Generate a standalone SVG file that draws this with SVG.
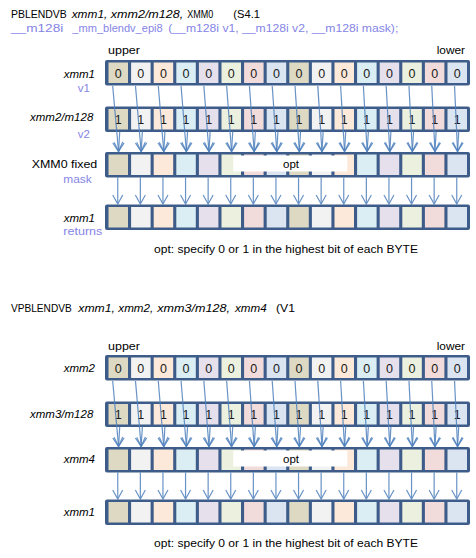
<svg xmlns="http://www.w3.org/2000/svg" width="476" height="558" viewBox="0 0 476 558">
<style>
text{font-family:"Liberation Sans",Arial,sans-serif;font-size:11.5px;fill:#000}
.t{font-size:11.5px}
.i{font-style:italic}
.lv{fill:#8585E6}
.d{font-size:12.5px;text-anchor:middle;fill:#1a1a1a}
.e{text-anchor:end}
.a{stroke:#4F81BD;stroke-width:1.2;fill:none;opacity:0.85;marker-end:url(#ah)}
</style>
<defs>
<marker id="ah" viewBox="-11 -7 13 14" refX="0" refY="0" markerWidth="13" markerHeight="14" markerUnits="userSpaceOnUse" orient="auto">
<path d="M-9,-5 L0,0 L-9,5" fill="none" stroke="#4F81BD" stroke-width="1.2"/>
</marker>
<g id="reg">
<rect x="105" y="0" width="365" height="25.5" rx="2" fill="#3D5C89"/>
<rect x="108.5" y="2.5" width="19.5" height="20.5" fill="#DDD9C3"/>
<rect x="131.1" y="2.5" width="19.5" height="20.5" fill="#F2F2F2"/>
<rect x="153.7" y="2.5" width="19.5" height="20.5" fill="#FDE9D9"/>
<rect x="176.3" y="2.5" width="19.5" height="20.5" fill="#DAEEF3"/>
<rect x="198.9" y="2.5" width="19.5" height="20.5" fill="#E5E0EC"/>
<rect x="221.5" y="2.5" width="19.5" height="20.5" fill="#EBF1DE"/>
<rect x="244.1" y="2.5" width="19.5" height="20.5" fill="#F2DCDB"/>
<rect x="266.7" y="2.5" width="19.5" height="20.5" fill="#DBE5F1"/>
<rect x="289.3" y="2.5" width="19.5" height="20.5" fill="#DDD9C3"/>
<rect x="311.9" y="2.5" width="19.5" height="20.5" fill="#F2F2F2"/>
<rect x="334.5" y="2.5" width="19.5" height="20.5" fill="#FDE9D9"/>
<rect x="357.1" y="2.5" width="19.5" height="20.5" fill="#DAEEF3"/>
<rect x="379.7" y="2.5" width="19.5" height="20.5" fill="#E5E0EC"/>
<rect x="402.3" y="2.5" width="19.5" height="20.5" fill="#EBF1DE"/>
<rect x="424.9" y="2.5" width="19.5" height="20.5" fill="#F2DCDB"/>
<rect x="447.5" y="2.5" width="19.5" height="20.5" fill="#DBE5F1"/>
</g>
<g id="zeros">
<text class="d" x="118.25" y="17.8">0</text><text class="d" x="140.85" y="17.8">0</text><text class="d" x="163.45" y="17.8">0</text><text class="d" x="186.05" y="17.8">0</text>
<text class="d" x="208.65" y="17.8">0</text><text class="d" x="231.25" y="17.8">0</text><text class="d" x="253.85" y="17.8">0</text><text class="d" x="276.45" y="17.8">0</text>
<text class="d" x="299.05" y="17.8">0</text><text class="d" x="321.65" y="17.8">0</text><text class="d" x="344.25" y="17.8">0</text><text class="d" x="366.85" y="17.8">0</text>
<text class="d" x="389.45" y="17.8">0</text><text class="d" x="412.05" y="17.8">0</text><text class="d" x="434.65" y="17.8">0</text><text class="d" x="457.25" y="17.8">0</text>
</g>
<g id="ones">
<text class="d" x="118.25" y="17.8">1</text><text class="d" x="140.85" y="17.8">1</text><text class="d" x="163.45" y="17.8">1</text><text class="d" x="186.05" y="17.8">1</text>
<text class="d" x="208.65" y="17.8">1</text><text class="d" x="231.25" y="17.8">1</text><text class="d" x="253.85" y="17.8">1</text><text class="d" x="276.45" y="17.8">1</text>
<text class="d" x="299.05" y="17.8">1</text><text class="d" x="321.65" y="17.8">1</text><text class="d" x="344.25" y="17.8">1</text><text class="d" x="366.85" y="17.8">1</text>
<text class="d" x="389.45" y="17.8">1</text><text class="d" x="412.05" y="17.8">1</text><text class="d" x="434.65" y="17.8">1</text><text class="d" x="457.25" y="17.8">1</text>
</g>
<g id="optbox">
<rect x="233.3" y="3.5" width="114" height="16" fill="#FFFFFF"/>
<text x="291" y="15.8" text-anchor="middle" font-size="12">opt</text>
</g>
<g id="conn">
<line class="a" x1="112.7" y1="86" x2="118.55" y2="151.5"/><line class="a" x1="119.75" y1="131.5" x2="118.55" y2="151.5"/><line class="a" x1="117.75" y1="177.5" x2="117.75" y2="204"/>
<line class="a" x1="135.49" y1="86" x2="141.15" y2="151.5"/><line class="a" x1="142.35" y1="131.5" x2="141.15" y2="151.5"/><line class="a" x1="140.35" y1="177.5" x2="140.35" y2="204"/>
<line class="a" x1="158.28" y1="86" x2="163.75" y2="151.5"/><line class="a" x1="164.95" y1="131.5" x2="163.75" y2="151.5"/><line class="a" x1="162.95" y1="177.5" x2="162.95" y2="204"/>
<line class="a" x1="181.07" y1="86" x2="186.35" y2="151.5"/><line class="a" x1="187.55" y1="131.5" x2="186.35" y2="151.5"/><line class="a" x1="185.55" y1="177.5" x2="185.55" y2="204"/>
<line class="a" x1="203.86" y1="86" x2="208.95" y2="151.5"/><line class="a" x1="210.15" y1="131.5" x2="208.95" y2="151.5"/><line class="a" x1="208.15" y1="177.5" x2="208.15" y2="204"/>
<line class="a" x1="226.65" y1="86" x2="231.55" y2="151.5"/><line class="a" x1="232.75" y1="131.5" x2="231.55" y2="151.5"/><line class="a" x1="230.75" y1="177.5" x2="230.75" y2="204"/>
<line class="a" x1="249.44" y1="86" x2="254.15" y2="151.5"/><line class="a" x1="255.35" y1="131.5" x2="254.15" y2="151.5"/><line class="a" x1="253.35" y1="177.5" x2="253.35" y2="204"/>
<line class="a" x1="272.23" y1="86" x2="276.75" y2="151.5"/><line class="a" x1="277.95" y1="131.5" x2="276.75" y2="151.5"/><line class="a" x1="275.95" y1="177.5" x2="275.95" y2="204"/>
<line class="a" x1="295.02" y1="86" x2="299.35" y2="151.5"/><line class="a" x1="300.55" y1="131.5" x2="299.35" y2="151.5"/><line class="a" x1="298.55" y1="177.5" x2="298.55" y2="204"/>
<line class="a" x1="317.81" y1="86" x2="321.95" y2="151.5"/><line class="a" x1="323.15" y1="131.5" x2="321.95" y2="151.5"/><line class="a" x1="321.15" y1="177.5" x2="321.15" y2="204"/>
<line class="a" x1="340.6" y1="86" x2="344.55" y2="151.5"/><line class="a" x1="345.75" y1="131.5" x2="344.55" y2="151.5"/><line class="a" x1="343.75" y1="177.5" x2="343.75" y2="204"/>
<line class="a" x1="363.39" y1="86" x2="367.15" y2="151.5"/><line class="a" x1="368.35" y1="131.5" x2="367.15" y2="151.5"/><line class="a" x1="366.35" y1="177.5" x2="366.35" y2="204"/>
<line class="a" x1="386.18" y1="86" x2="389.75" y2="151.5"/><line class="a" x1="390.95" y1="131.5" x2="389.75" y2="151.5"/><line class="a" x1="388.95" y1="177.5" x2="388.95" y2="204"/>
<line class="a" x1="408.97" y1="86" x2="412.35" y2="151.5"/><line class="a" x1="413.55" y1="131.5" x2="412.35" y2="151.5"/><line class="a" x1="411.55" y1="177.5" x2="411.55" y2="204"/>
<line class="a" x1="431.76" y1="86" x2="434.95" y2="151.5"/><line class="a" x1="436.15" y1="131.5" x2="434.95" y2="151.5"/><line class="a" x1="434.15" y1="177.5" x2="434.15" y2="204"/>
<line class="a" x1="454.55" y1="86" x2="457.55" y2="151.5"/><line class="a" x1="458.75" y1="131.5" x2="457.55" y2="151.5"/><line class="a" x1="456.75" y1="177.5" x2="456.75" y2="204"/>
</g>
</defs>

<g id="title1">
<text class="t" x="11" y="17.5" textLength="55.7" lengthAdjust="spacingAndGlyphs">PBLENDVB</text>
<text class="t i" x="71.7" y="17.5" textLength="35.6" lengthAdjust="spacingAndGlyphs">xmm1,</text>
<text class="t i" x="110.7" y="17.5" textLength="72.6" lengthAdjust="spacingAndGlyphs">xmm2/m128,</text>
<text class="t" x="187.3" y="17.5" textLength="26" lengthAdjust="spacingAndGlyphs">XMM0</text>
<text class="t" x="233.3" y="17.5" textLength="26.7" lengthAdjust="spacingAndGlyphs">(S4.1</text>
<text class="t lv" x="11" y="32.3" textLength="52.3" lengthAdjust="spacingAndGlyphs">__m128i</text>
<text class="t lv" x="72.3" y="32.3" textLength="90.4" lengthAdjust="spacingAndGlyphs">_mm_blendv_epi8</text>
<text class="t lv" x="168.3" y="32.3" textLength="230" lengthAdjust="spacingAndGlyphs">(__m128i v1, __m128i v2, __m128i mask);</text>
<text x="108" y="54.3" textLength="32" lengthAdjust="spacingAndGlyphs">upper</text>
<text x="436.7" y="54.3" textLength="28.3" lengthAdjust="spacingAndGlyphs">lower</text>
</g>

<g id="src1">
<use href="#reg" y="60"/><use href="#zeros" y="60"/>
<text class="i e" x="95" y="77.5">xmm1</text>
<text class="lv e" x="90" y="91.7">v1</text>
</g>
<g id="src2">
<use href="#reg" y="106.5"/><use href="#ones" y="106.5"/>
<text class="i e" x="93.3" y="121">xmm2/m128</text>
<text class="lv e" x="90" y="138">v2</text>
</g>
<g id="mask1">
<use href="#reg" y="152"/><use href="#optbox" y="152"/>
<text x="31.7" y="168.3" textLength="65.6" lengthAdjust="spacingAndGlyphs">XMM0 fixed</text>
<text class="lv" x="63.3" y="183.3" textLength="28.4" lengthAdjust="spacingAndGlyphs">mask</text>
</g>
<g id="dst1">
<use href="#reg" y="204.5"/>
<text class="i e" x="95" y="221.7">xmm1</text>
<text class="lv" x="63.3" y="235" textLength="39" lengthAdjust="spacingAndGlyphs">returns</text>
</g>
<text id="note1" x="154" y="252.5" textLength="264" lengthAdjust="spacingAndGlyphs">opt:  specify 0 or 1 in the highest bit of each BYTE</text>

<g id="title2">
<text class="t" x="11" y="311.7" textLength="60.7" lengthAdjust="spacingAndGlyphs">VPBLENDVB</text>
<text class="t i" x="78.3" y="311.7" textLength="36.7" lengthAdjust="spacingAndGlyphs">xmm1,</text>
<text class="t i" x="118.3" y="311.7" textLength="35" lengthAdjust="spacingAndGlyphs">xmm2,</text>
<text class="t i" x="157.3" y="311.7" textLength="72.7" lengthAdjust="spacingAndGlyphs">xmm3/m128,</text>
<text class="t i" x="235" y="311.7" textLength="31.7" lengthAdjust="spacingAndGlyphs">xmm4</text>
<text class="t" x="276" y="311.7" textLength="19" lengthAdjust="spacingAndGlyphs">(V1</text>
<text x="108" y="350" textLength="32" lengthAdjust="spacingAndGlyphs">upper</text>
<text x="436.7" y="350" textLength="28.3" lengthAdjust="spacingAndGlyphs">lower</text>
</g>

<g id="src3">
<use href="#reg" y="355"/><use href="#zeros" y="355"/>
<text class="i e" x="95" y="372.3">xmm2</text>
</g>
<g id="src4">
<use href="#reg" y="401.5"/><use href="#ones" y="401.5"/>
<text class="i e" x="93.3" y="417.7">xmm3/m128</text>
</g>
<g id="mask2">
<use href="#reg" y="447"/><use href="#optbox" y="447"/>
<text class="i e" x="95" y="463.3">xmm4</text>
</g>
<g id="dst2">
<use href="#reg" y="499.5"/>
<text class="i e" x="95" y="516">xmm1</text>
</g>
<text id="note2" x="154" y="547" textLength="264" lengthAdjust="spacingAndGlyphs">opt:  specify 0 or 1 in the highest bit of each BYTE</text>

<g id="connectors">
<use href="#conn" y="0"/>
<use href="#conn" y="295"/>
</g>
</svg>
